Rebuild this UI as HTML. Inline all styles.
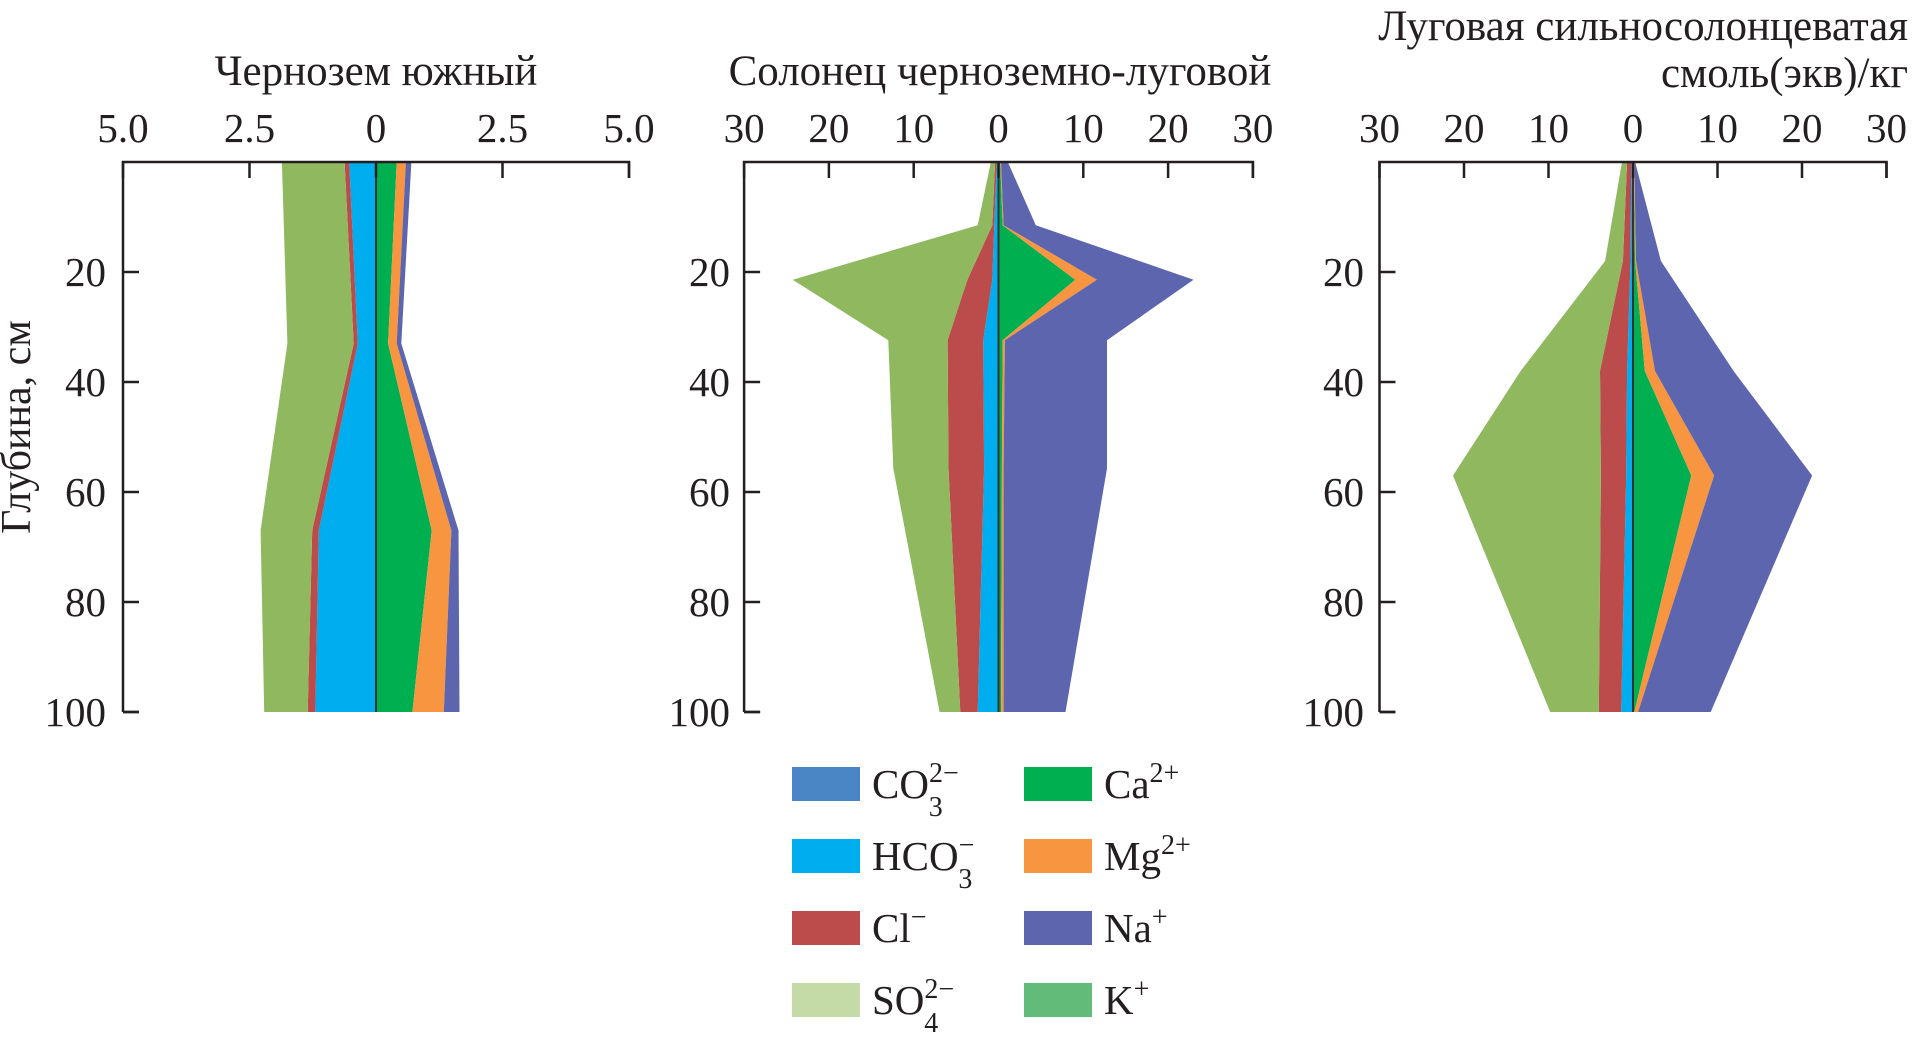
<!DOCTYPE html>
<html><head><meta charset="utf-8">
<style>
html,body{margin:0;padding:0;background:#fff;}
svg{display:block;font-family:"Liberation Serif","DejaVu Serif",serif;}
</style></head>
<body>
<svg id="chart" width="1912" height="1041" viewBox="0 0 1912 1041">
<text x="30" y="427" font-size="42" fill="#231f20" text-anchor="middle" transform="rotate(-90 30 427)">Глубина, см</text>
<text x="1908" y="40" font-size="43" fill="#231f20" text-anchor="end">Луговая сильносолонцеватая</text>
<text x="1908" y="87" font-size="43" fill="#231f20" text-anchor="end">смоль(экв)/кг</text>
<g id="legend"></g>
</svg>
<script>
const ionNames = ["CO3","HCO3","Cl","SO4","Ca","Mg","Na","K"];
const ionColors = {CO3:"#4a86c5",HCO3:"#00adef",Cl:"#bb4c4b",SO4:"#8fb85f",Ca:"#00b050",Mg:"#f79541",Na:"#5c65ad",K:"#63bb7a"};
// Panel 1: Чернозем южный
const p1Depths = [0,33,67,100];
const p1HCO3 = [0.53,0.36,1.13,1.20];
const p1Cl   = [0.09,0.08,0.13,0.15];
const p1SO4  = [1.24,1.31,1.02,0.86];
const p1Ca   = [0.41,0.24,1.10,0.72];
const p1Mg   = [0.18,0.17,0.39,0.62];
const p1Na   = [0.11,0.09,0.14,0.31];
// Panel 2: Солонец черноземно-луговой
const p2Depths = [0,11.5,21.4,32.4,55.7,100];
const p2HCO3 = [0.2,0.5,0.73,1.8,1.7,2.45];
const p2Cl   = [0.2,0.23,2.94,4.2,4.2,2.05];
const p2SO4  = [0.5,1.72,20.6,7.0,6.5,2.45];
const p2Ca   = [0.2,0.5,9.05,0.5,0.4,0.3];
const p2Mg   = [0.1,0.1,2.55,0.25,0.2,0.3];
const p2Na   = [0.8,3.8,11.4,12.05,12.2,7.3];
// Panel 3: Луговая сильносолонцеватая
const p3Depths = [0,18,38,57,100];
const p3HCO3 = [0.2,0.3,0.7,0.8,1.4];
const p3Cl   = [0.5,0.9,3.2,3.0,2.65];
const p3SO4  = [0.6,2.1,9.4,17.5,5.75];
const p3Ca   = [0.1,0.25,1.4,6.9,0.15];
const p3Mg   = [0.05,0.1,1.2,2.7,0.45];
const p3Na   = [0.1,2.95,9.3,11.6,8.6];
const p1Ticks = ["5.0","2.5","0","2.5","5.0"], p1TickVals=[-5,-2.5,0,2.5,5];
const p23Ticks = ["30","20","10","0","10","20","30"], p23TickVals=[-30,-20,-10,0,10,20,30];
const depthTicks = [20,40,60,80,100];

const NS="http://www.w3.org/2000/svg";
const svg=document.getElementById('chart');
function mk(tag,attrs,parent){const e=document.createElementNS(NS,tag);for(const k in attrs)e.setAttribute(k,attrs[k]);(parent||svg).appendChild(e);return e;}
const y0=162, yPer=5.5;
function yScale(d){return y0+d*yPer;}

const panels=[
 {id:"panel-1",title:"Чернозем южный",zero:376,per:50.6,max:5,ticks:p1Ticks,tickVals:p1TickVals,labelRight:106,
  depths:p1Depths,neg:[["HCO3",p1HCO3],["Cl",p1Cl],["SO4",p1SO4]],pos:[["Ca",p1Ca],["Mg",p1Mg],["Na",p1Na]]},
 {id:"panel-2",title:"Солонец черноземно-луговой",zero:998.5,per:8.48,max:30,ticks:p23Ticks,tickVals:p23TickVals,labelRight:730,
  depths:p2Depths,neg:[["HCO3",p2HCO3],["Cl",p2Cl],["SO4",p2SO4]],pos:[["Ca",p2Ca],["Mg",p2Mg],["Na",p2Na]]},
 {id:"panel-3",title:null,zero:1633,per:8.45,max:30,ticks:p23Ticks,tickVals:p23TickVals,labelRight:1364,
  depths:p3Depths,neg:[["HCO3",p3HCO3],["Cl",p3Cl],["SO4",p3SO4]],pos:[["Ca",p3Ca],["Mg",p3Mg],["Na",p3Na]]}
];

panels.forEach(p=>{
  const g=mk('g',{});
  
  
  const xs=v=>p.zero+v*p.per;
  function stack(list,sign){
    let base=p.depths.map(()=>0);
    list.forEach(([name,vals])=>{
      const top=base.map((b,i)=>b+vals[i]);
      const pts=[];
      p.depths.forEach((d,i)=>pts.push(xs(sign*top[i]).toFixed(1)+","+yScale(d).toFixed(1)));
      for(let i=p.depths.length-1;i>=0;i--)pts.push(xs(sign*base[i]).toFixed(1)+","+yScale(p.depths[i]).toFixed(1));
      const poly=mk('polygon',{points:pts.join(' '),fill:ionColors[name]},g);
      
      
      base=top;
    });
  }
  stack(p.neg,-1); stack(p.pos,1);
  const zl=mk('line',{x1:p.zero,y1:yScale(0),x2:p.zero,y2:yScale(100),stroke:"#333",'stroke-width':2},g);
  
  
  const ax=mk('path',{d:`M${xs(-p.max)},${yScale(100)} H${xs(-p.max)+16} M${xs(-p.max)},${yScale(100)} V${y0} H${xs(p.max)} V${y0+16}`,fill:"none",stroke:"#231f20",'stroke-width':2.5},g);
  
  
  p.tickVals.forEach((v,i)=>{
    mk('line',{x1:xs(v),y1:y0,x2:xs(v),y2:y0+16,stroke:"#231f20",'stroke-width':2.5},g);
    const t=mk('text',{x:xs(v),y:142,'font-size':41,fill:"#231f20",'text-anchor':'middle'},g);
    t.textContent=p.ticks[i];
    
    
  });
  depthTicks.forEach(d=>{
    mk('line',{x1:xs(-p.max),y1:yScale(d),x2:xs(-p.max)+16,y2:yScale(d),stroke:"#231f20",'stroke-width':2.5},g);
    const t=mk('text',{x:p.labelRight,y:yScale(d)+14,'font-size':41,fill:"#231f20",'text-anchor':'end'},g);
    t.textContent=d;
    
    
  });
  if(p.title){
    const t=mk('text',{x:p.id==="panel-1"?376:1000,y:85,'font-size':43,fill:"#231f20",'text-anchor':'middle'},g);
    t.textContent=p.title;
    
    
  }
});

// legend
const legend=document.getElementById('legend');
const legendItems=[
 ["CO3","CO","3","2−",0,0],["HCO3","HCO","3","−",0,1],["Cl","Cl","","−",0,2],["SO4","SO","4","2−",0,3],
 ["Ca","Ca","","2+",1,0],["Mg","Mg","","2+",1,1],["Na","Na","","+",1,2],["K","K","","+",1,3]];
const legendColors={CO3:"#4a86c5",HCO3:"#00adef",Cl:"#bb4c4b",SO4:"#c4dba8",Ca:"#00b050",Mg:"#f79541",Na:"#5c65ad",K:"#63bb7a"};
legendItems.forEach(([key,base,sub,sup,col,row])=>{
  const sx=col?1024:792, cy=784+row*72;
  const g=mk('g',{},legend);
  
  
  mk('rect',{x:sx,y:cy-17,width:68,height:34,fill:legendColors[key]},g);
  const t=mk('text',{x:sx+80,y:cy+14,'font-size':41,fill:"#231f20"},g);
  t.appendChild(document.createTextNode(base));
  if(sub&&sup){
    const ts=mk('tspan',{'font-size':28,dy:-16},t);ts.textContent=sup;
    const tb=mk('tspan',{'font-size':28,dy:34,dx:-(sup.length*14+2)},t);tb.textContent=sub;
  }else{
    const ts=mk('tspan',{'font-size':28,dy:-16},t);ts.textContent=sup;
  }
});
</script>
</body></html>
